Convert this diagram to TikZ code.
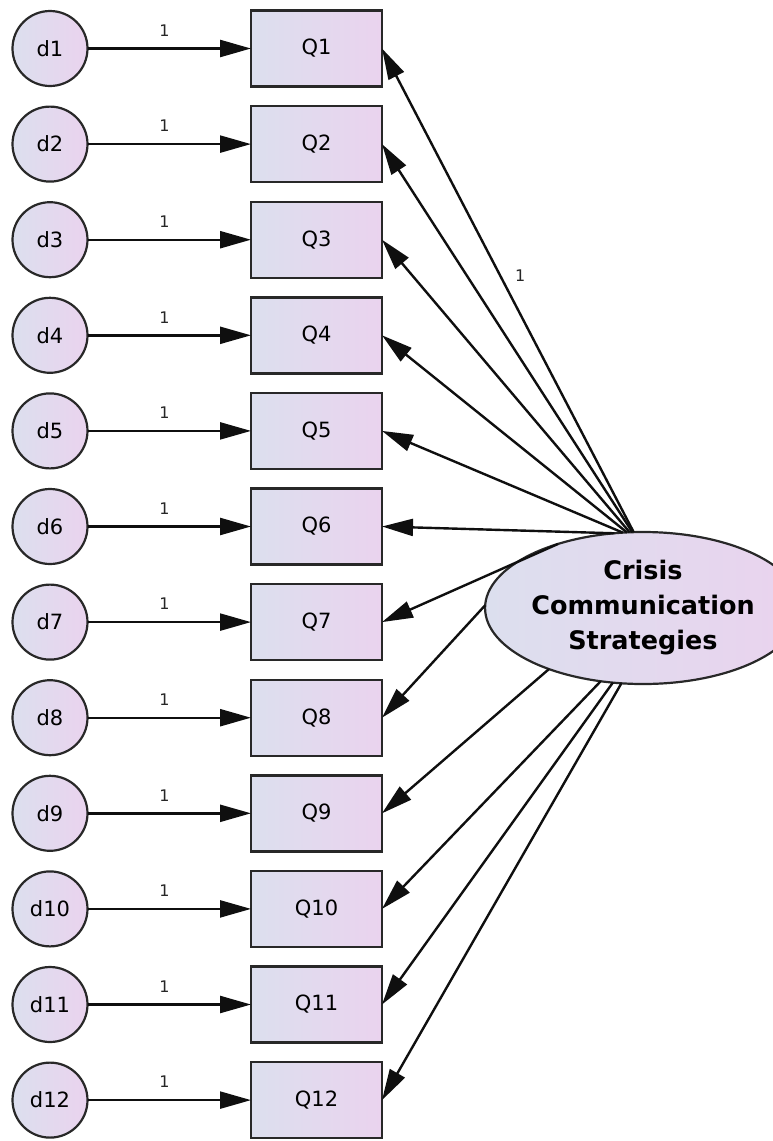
\documentclass[tikz,border=0pt]{standalone}
\usepackage{fontspec}
\setmainfont{DejaVu Sans}
\usetikzlibrary{arrows.meta,shapes.geometric}
\definecolor{shL}{RGB}{220,223,238}
\definecolor{shR}{RGB}{234,211,238}
\definecolor{bord}{RGB}{40,40,40}
\definecolor{lineC}{RGB}{15,15,15}
\begin{document}
\begin{tikzpicture}[x=1pt,y=-1pt,
  dnode/.style={circle, minimum size=75pt, inner sep=0pt, outer sep=0pt, draw=bord, line width=2.2pt, left color=shL, right color=shR, font=\fontsize{21}{24}\selectfont},
  qnode/.style={rectangle, minimum width=131pt, minimum height=76pt, inner sep=0pt, outer sep=0pt, draw=bord, line width=2.4pt, left color=shL, right color=shR, font=\fontsize{21}{24}\selectfont},
  fnode/.style={ellipse, minimum width=256pt, minimum height=152pt, inner sep=0pt, outer sep=0pt, draw=bord, line width=2.2pt, left color=shL, right color=shR, align=center, font=\fontsize{25.5}{35}\selectfont\bfseries},
  arr/.style={line width=2.4pt, draw=lineC, -{Triangle[length=31pt,width=17pt]}},
  lbl/.style={font=\fontsize{16}{18}\selectfont, inner sep=0pt, text=black!85}
]
\useasboundingbox (0,0) rectangle (772,1141);
\foreach \i in {1,...,12} {
  \pgfmathsetmacro\yy{48.5+(\i-1)*95.6}
  \node[dnode] (d\i) at (50,\yy) {d\i};
  \node[qnode] (Q\i) at (316.5,\yy) {Q\i};
  \draw[arr] (d\i) -- node[lbl,pos=0.47,yshift=18pt]{1} (Q\i);
}
\node[fnode] (F) at (643,608) {Crisis\\Communication\\Strategies};
\draw[arr] (F.97.4) -- node[lbl,pos=0.53,xshift=20pt]{1} (Q1.east);
\foreach \i/\a in {2/98.9, 3/100.3, 4/102.4, 5/105.4, 6/111.1, 7/143.5, 8/179.1, 9/213.8, 10/240.2, 11/248.5, 12/254.6}
  \draw[arr] (F.\a) -- (Q\i.east);
\end{tikzpicture}
\end{document}
